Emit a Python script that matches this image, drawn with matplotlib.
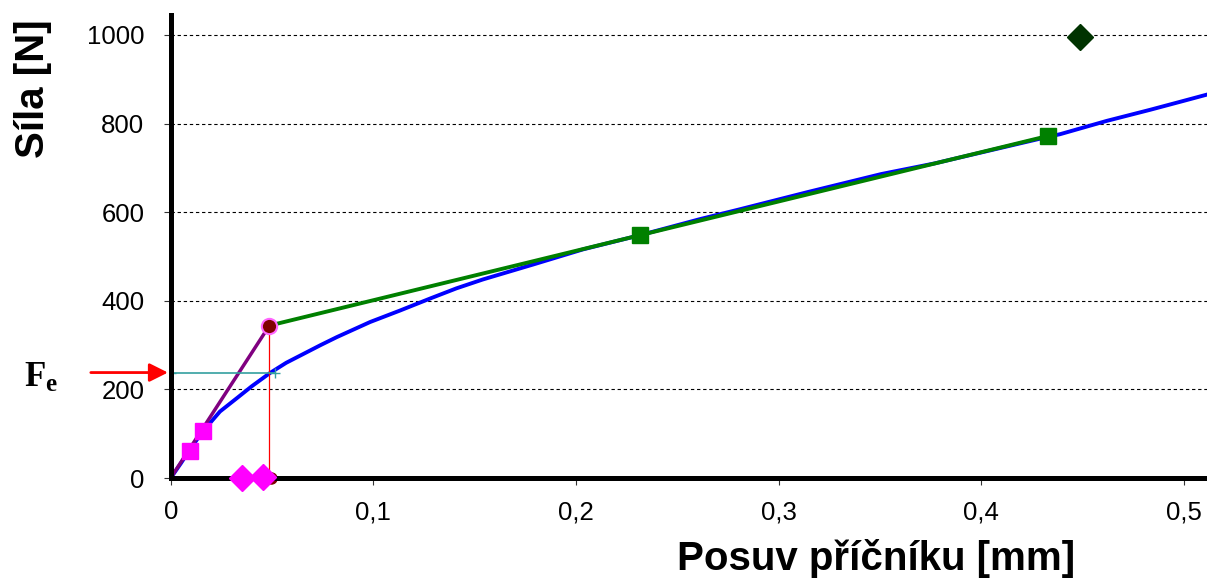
import matplotlib
matplotlib.use('Agg')
import matplotlib.pyplot as plt

plt.rcParams['font.family'] = ['Liberation Sans', 'DejaVu Sans']

# Naměřená křivka (posuv [mm], síla [N])
posuv = [0, 0.005, 0.010, 0.016, 0.0194, 0.0243, 0.0326, 0.040, 0.049, 0.057,
         0.0655, 0.074, 0.082, 0.0984, 0.1132, 0.128, 0.141, 0.154, 0.179,
         0.2035, 0.2316, 0.261, 0.2805, 0.315, 0.3507, 0.377, 0.405, 0.433,
         0.439, 0.462, 0.4834, 0.4998, 0.512]
sila = [0, 33, 68, 106, 124, 150, 180, 207, 237, 260,
        280, 300, 318, 352, 378, 405, 428, 448, 482,
        516, 548, 584, 606, 646, 686, 710, 740, 770,
        776, 806, 831, 851, 866]

# Přímka pružné oblasti
pruzna_x = [0, 0.0487]
pruzna_y = [0, 344]

# Zelená přímka zpevnění
zpevneni_x = [0.0487, 0.2316, 0.433]
zpevneni_y = [344, 548, 772]

# Body na křivce
ctverce_x = [0.0095, 0.0158]
ctverce_y = [60, 105]
kosoctverce_x = [0.035, 0.0457]
kosoctverce_y = [0, 3]
bod_max_x = [0.449]
bod_max_y = [995]
bod_osa_x = [0.0494]
bod_osa_y = [0]

Fe = 238          # mez kluzu
Fe_posuv = 0.0515  # konec vodorovné čáry

fig = plt.figure(figsize=(12.07, 5.79), dpi=100)
ax = fig.add_axes([170.7 / 1207, 1 - 478 / 579, 1 - 170.7 / 1207, 463 / 579])

ax.set_xlim(0, 0.5115)
ax.set_ylim(0, 1045)

# Mřížka
ax.set_yticks([0, 200, 400, 600, 800, 1000])
ax.set_xticks([0, 0.1, 0.2, 0.3, 0.4, 0.5])
ax.set_xticklabels(['0', '0,1', '0,2', '0,3', '0,4', '0,5'])
ax.yaxis.grid(True, color='black', linestyle=(0, (3, 2.5)), linewidth=0.8)
ax.set_axisbelow(True)

for s in ['top', 'right']:
    ax.spines[s].set_visible(False)
for s in ['left', 'bottom']:
    ax.spines[s].set_linewidth(3.6)
    ax.spines[s].set_zorder(5)

ax.tick_params(axis='both', labelsize=18.5, length=5, width=0.8, color='#333333')
ax.tick_params(axis='y', pad=14)
ax.tick_params(axis='x', pad=11)

# Křivky
ax.plot(posuv, sila, color='#0000FF', linewidth=2.8, zorder=3)
ax.plot(zpevneni_x, zpevneni_y, color='#008000', linewidth=2.8, zorder=4)
ax.plot(pruzna_x, pruzna_y, color='#800080', linewidth=2.5, zorder=4)

# Pomocné čáry pro Fe
ax.plot([pruzna_x[1], pruzna_x[1]], [0, pruzna_y[1]], color='red', linewidth=0.9, zorder=4)
ax.plot([0, Fe_posuv], [Fe, Fe], color='#33A0A0', linewidth=1.2, zorder=4,
        marker='+', markersize=7, markeredgewidth=1.0)

# Značky
ax.plot(zpevneni_x[1:], zpevneni_y[1:], 's', color='#008000', markersize=11, zorder=6)
ax.plot(ctverce_x, ctverce_y, 's', color='#FF00FF', markersize=11, zorder=6)
ax.plot(bod_osa_x, bod_osa_y, 'o', color='#800000', markersize=8, zorder=4, clip_on=False)
ax.plot(kosoctverce_x, kosoctverce_y, 'D', color='#FF00FF', markersize=13, zorder=7,
        clip_on=False)
ax.plot(bod_max_x, bod_max_y, 'D', color='#003300', markersize=13, zorder=6)
ax.plot(pruzna_x[1:], pruzna_y[1:], 'o', markerfacecolor='#800000',
        markeredgecolor='#FF66FF', markeredgewidth=1.5, markersize=11, zorder=7)

# Šipka a popisek Fe
ax.annotate('', xy=(0, Fe), xytext=(-0.0408, Fe),
            arrowprops=dict(arrowstyle='-|>', color='red', lw=2, mutation_scale=28),
            annotation_clip=False)
fig.text(24 / 1207, 1 - 386 / 579, 'F', fontsize=25, fontweight='bold',
         family='Liberation Serif', va='baseline', ha='left')
fig.text(45 / 1207, 1 - 391 / 579, 'e', fontsize=18, fontweight='bold',
         family='Liberation Serif', va='baseline', ha='left')

# Popisky os
ax.text(0.681, -0.173, 'Posuv příčníku [mm]', transform=ax.transAxes,
        fontsize=29, fontweight='bold', ha='center', va='center')
ax.text(-0.133, 0.84, 'Síla [N]', transform=ax.transAxes, rotation=90,
        fontsize=29, fontweight='bold', ha='center', va='center')

plt.savefig('out.png', dpi=100)
plt.close()
